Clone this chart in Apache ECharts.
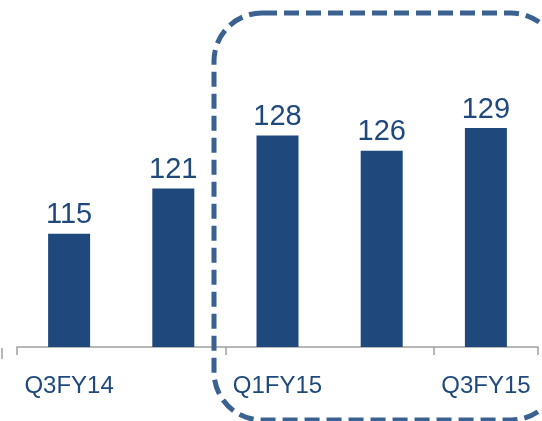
<!DOCTYPE html>
<html>
<head>
<meta charset="utf-8">
<script src="https://cdn.jsdelivr.net/npm/echarts@6/dist/echarts.min.js"></script>
<style>
html,body{margin:0;padding:0;background:#fff;}
#chart{width:542px;height:421px;}
</style>
</head>
<body>
<div id="chart"></div>
<script>
const categories = ['Q3FY14', 'Q4FY14', 'Q1FY15', 'Q2FY15', 'Q3FY15'];
const values = [115, 121, 128, 126, 129];

const chart = echarts.init(document.getElementById('chart'));
chart.setOption({
  animation: false,
  backgroundColor: '#ffffff',
  grid: { left: 17, right: 4, top: 45, bottom: 74 },
  xAxis: {
    type: 'category',
    data: categories,
    boundaryGap: true,
    axisLine: { lineStyle: { color: '#a0a0a0', width: 1.5 } },
    axisTick: { show: true, length: 8, lineStyle: { color: '#a0a0a0', width: 1.5 } },
    axisLabel: {
      interval: 1,
      color: '#1f497d',
      fontSize: 24,
      fontFamily: 'Liberation Sans, Arial, sans-serif',
      margin: 27
    }
  },
  yAxis: {
    type: 'value',
    min: 100,
    max: 140,
    show: false,
    splitLine: { show: false }
  },
  series: [{
    type: 'bar',
    data: values,
    barWidth: 42,
    itemStyle: { color: '#1f497d' },
    label: {
      show: true,
      position: 'top',
      distance: 4,
      color: '#1f497d',
      fontSize: 29,
      fontFamily: 'Liberation Sans, Arial, sans-serif'
    }
  }],
  graphic: [
    {
      type: 'rect',
      shape: { x: 214, y: 13, width: 345, height: 407, r: 48 },
      style: { fill: 'none', stroke: '#3a6190', lineWidth: 5, lineDash: [15, 7] },
      z: 10
    },
    {
      type: 'line',
      shape: { x1: 2, y1: 348, x2: 2, y2: 359 },
      style: { stroke: '#a0a0a0', lineWidth: 1.5 }
    }
  ]
});
</script>
</body>
</html>
